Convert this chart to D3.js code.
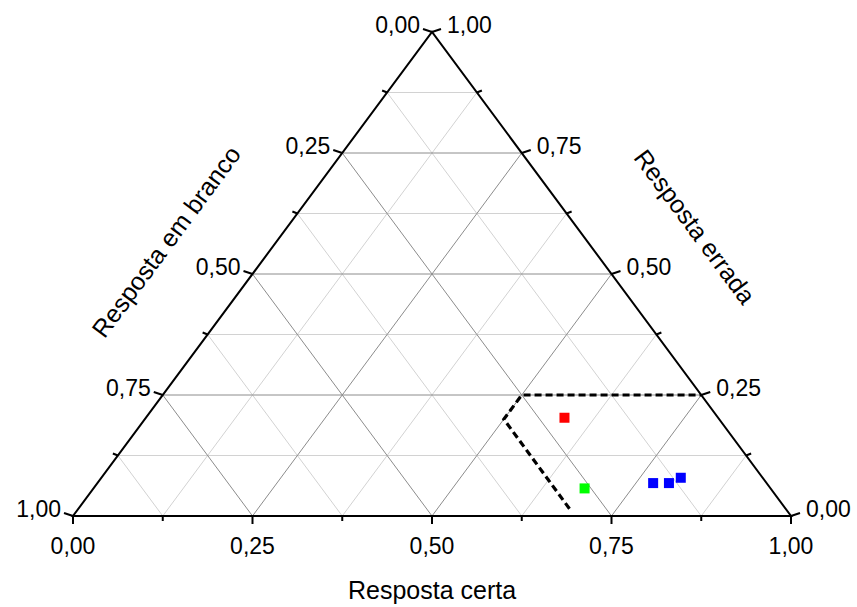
<!DOCTYPE html>
<html>
<head>
<meta charset="utf-8">
<script src="https://cdn.jsdelivr.net/npm/d3@7"></script>
<style>
  html, body { margin: 0; padding: 0; background: #fff; }
  text { font-family: "Liberation Sans", Arial, sans-serif; fill: #000; }
</style>
</head>
<body>
<svg id="chart" width="857" height="607"></svg>
<script>
// ---- data ----
const pointNames = ["p1", "p2", "p3", "p4", "p5"];
const certa   = [0.583, 0.684, 0.774, 0.796, 0.807];
const errada  = [0.203, 0.057, 0.068, 0.068, 0.079];
const branco  = [0.214, 0.259, 0.158, 0.136, 0.114];
const pointColors = ["#ff0000", "#00ff00", "#0000ff", "#0000ff", "#0000ff"];

const regionCerta  = [0.684, 0.5, 0.5, 0.75];
const regionErrada = [0.015, 0.2, 0.25, 0.25];

const majorTicks = [0, 0.25, 0.5, 0.75, 1];
const minorTicks = [0.125, 0.375, 0.625, 0.875];
const tickLabels = ["0,00", "0,25", "0,50", "0,75", "1,00"];
const gridValues = [0.125, 0.25, 0.375, 0.5, 0.625, 0.75, 0.875];

const titleBottom = "Resposta certa";
const titleLeft = "Resposta em branco";
const titleRight = "Resposta errada";

// ---- scales ----
const xScale = d3.scaleLinear().domain([0, 1]).range([73, 791]);
const yScale = d3.scaleLinear().domain([0, 1]).range([516, 32]);
function proj(c, e) { return [xScale(c + e / 2), yScale(e)]; }

const svg = d3.select("#chart");
const line = d3.line();

// ---- grid ----
const gGrid = svg.append("g");
gridValues.forEach(v => {
  const major = Math.abs(v * 4 - Math.round(v * 4)) < 1e-9;
  const col = major ? "#8c8c8c" : "#d2d2d2";
  const segs = [
    [proj(0, v), proj(1 - v, v)],          // constant errada
    [proj(v, 0), proj(v, 1 - v)],          // constant certa
    [proj(1 - v, 0), proj(0, 1 - v)]       // constant branco
  ];
  segs.forEach(s => {
    gGrid.append("path").attr("d", line(s))
      .attr("stroke", col).attr("stroke-width", 1).attr("fill", "none")
      .attr("data-major", major ? 1 : 0);
  });
});
gGrid.selectAll("path[data-major='1']").raise();

// ---- frame ----
svg.append("path")
  .attr("d", line([proj(0, 0), proj(1, 0), proj(0, 1)]) + "Z")
  .attr("fill", "none").attr("stroke", "#000").attr("stroke-width", 2)
  .attr("stroke-linejoin", "miter");

// ---- ticks ----
const gTicks = svg.append("g").attr("stroke", "#000").attr("stroke-width", 2);
function tick(p, dx, dy) {
  gTicks.append("line").attr("x1", p[0]).attr("y1", p[1])
    .attr("x2", p[0] + dx).attr("y2", p[1] + dy);
}
majorTicks.forEach(v => {
  tick(proj(v, 0), 0, 8);                 // bottom: certa
  tick(proj(1 - v, v), 9, -3);            // right: errada
  tick(proj(0, 1 - v), -9, -3);           // left: branco
});
minorTicks.forEach(v => {
  tick(proj(v, 0), 0, 5);
  tick(proj(1 - v, v), 5, -2);
  tick(proj(0, 1 - v), -5, -2);
});

// ---- tick labels ----
const gLab = svg.append("g").style("font-size", "23px");
majorTicks.forEach((v, i) => {
  const pb = proj(v, 0);
  gLab.append("text").attr("x", pb[0]).attr("y", pb[1] + 38)
    .attr("text-anchor", "middle").text(tickLabels[i]);
  const pr = proj(1 - v, v);
  gLab.append("text").attr("x", pr[0] + 15).attr("y", pr[1] + 1)
    .attr("text-anchor", "start").text(tickLabels[i]);
  const pl = proj(0, 1 - v);
  gLab.append("text").attr("x", pl[0] - 12).attr("y", pl[1] + 1)
    .attr("text-anchor", "end").text(tickLabels[i]);
});

// ---- axis titles ----
const ang = Math.atan2(yScale(0) - yScale(1), xScale(0.5) - xScale(0)) * 180 / Math.PI;
svg.append("text").attr("x", 432).attr("y", 599).attr("text-anchor", "middle")
  .style("font-size", "25px").text(titleBottom);
svg.append("text").attr("transform", `translate(168,243) rotate(${-ang})`)
  .attr("text-anchor", "middle").attr("dominant-baseline", "middle")
  .style("font-size", "25px").text(titleLeft);
svg.append("text").attr("transform", `translate(693,228) rotate(${ang})`)
  .attr("text-anchor", "middle").attr("dominant-baseline", "middle")
  .style("font-size", "25px").text(titleRight);

// ---- dashed region ----
svg.append("path")
  .attr("d", line(regionCerta.map((c, i) => proj(c, regionErrada[i]))))
  .attr("fill", "none").attr("stroke", "#000").attr("stroke-width", 3.2)
  .attr("stroke-dasharray", "7,4");

// ---- points ----
const sz = 10;
svg.append("g").selectAll("rect").data(pointNames).join("rect")
  .attr("x", (d, i) => proj(certa[i], errada[i])[0] - sz / 2)
  .attr("y", (d, i) => proj(certa[i], errada[i])[1] - sz / 2)
  .attr("width", sz).attr("height", sz)
  .attr("fill", (d, i) => pointColors[i]);
</script>
</body>
</html>
